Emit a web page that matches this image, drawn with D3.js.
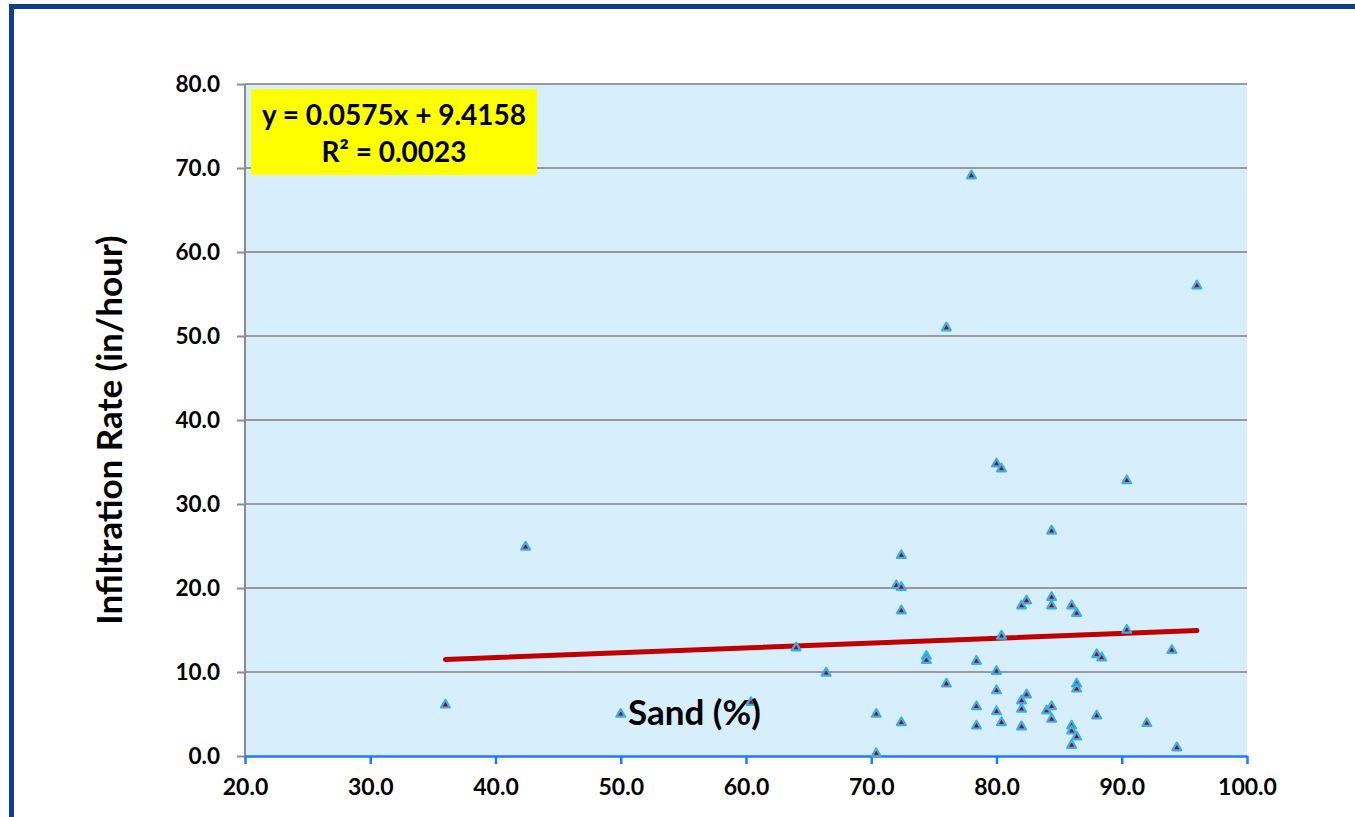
<!DOCTYPE html>
<html>
<head>
<meta charset="utf-8">
<script src="https://cdn.jsdelivr.net/npm/d3@7"></script>
<style>
  body { margin: 0; background: #fff; }
  svg text { font-family: Lato, "Open Sans", sans-serif; font-weight: bold; }
</style>
</head>
<body>
<div id="chart"></div>
<script>
// sand % vs infiltration rate
const sand = [36.0, 42.4, 50.0, 60.4, 64.0, 66.4, 70.4, 70.4, 72.0, 72.4, 72.4, 72.4, 72.4, 74.4, 74.4,
  76.0, 76.0, 78.0, 78.4, 78.4, 78.4, 80.0, 80.4, 80.0, 80.0, 80.0, 80.4, 80.4, 82.0, 82.4,
  82.0, 82.0, 82.0, 82.4, 84.0, 84.4, 84.4, 84.4, 84.4, 84.4, 86.0, 86.4, 86.4, 86.4, 86.0,
  86.0, 86.4, 86.0, 88.0, 88.4, 88.0, 90.4, 90.4, 92.0, 94.0, 94.4, 96.0]
const infiltration = [6.2, 25.0, 5.1, 6.5, 13.0, 10.0, 5.1, 0.4, 20.4, 24.0, 20.2, 17.4, 4.1, 12.0, 11.5,
  51.1, 8.7, 69.2, 11.4, 6.0, 3.7, 34.9, 34.3, 10.2, 7.9, 5.4, 14.4, 4.1, 18.0, 18.6,
  6.7, 5.7, 3.6, 7.4, 5.5, 6.0, 4.5, 26.9, 19.0, 18.0, 18.0, 17.1, 8.7, 8.1, 3.7,
  3.1, 2.4, 1.4, 12.2, 11.8, 4.9, 32.9, 15.1, 4.0, 12.7, 1.1, 56.1]

const xTicks = [20, 30, 40, 50, 60, 70, 80, 90, 100]
const yTicks = [0, 10, 20, 30, 40, 50, 60, 70, 80]
const slope = 0.0575, intercept = 9.4158, r2 = 0.0023

const W = 1355, H = 817
const margin = { top: 84, right: 108, bottom: 61, left: 245 }
const width = W - margin.left - margin.right
const height = H - margin.top - margin.bottom

const root = d3.select("#chart").append("svg")
  .attr("width", W)
  .attr("height", H)

// outer frame (runs off the right and bottom of the picture)
root.append("rect")
  .attr("x", 11.5).attr("y", 6.5)
  .attr("width", 1500).attr("height", 1000)
  .attr("fill", "none")
  .attr("stroke", "#0d3f8c")
  .attr("stroke-width", 5)

const svg = root.append("g")
  .attr("transform", "translate(" + margin.left + "," + margin.top + ")")

const x = d3.scaleLinear().domain([20, 100]).range([0, width])
const y = d3.scaleLinear().domain([0, 80]).range([height, 0])

svg.append("rect")
  .attr("width", width).attr("height", height)
  .attr("fill", "#d7eefd")

// gridlines
svg.append("g")
  .selectAll("line")
  .data(yTicks.filter(d => d > 0))
  .enter().append("line")
  .attr("x1", 0).attr("x2", width)
  .attr("y1", d => y(d)).attr("y2", d => y(d))
  .attr("stroke", "#9a9a9a")
  .attr("stroke-width", 2)

// y axis
const yaxis = svg.append("g")
  .call(d3.axisLeft(y).tickValues(yTicks).tickFormat(d3.format(".1f")).tickSize(8).tickPadding(17))
yaxis.selectAll("path, line").attr("stroke", "#8c8c8c").attr("stroke-width", 2)
yaxis.select(".domain").attr("d", "M0," + height + "V0")
yaxis.selectAll("text").style("font-size", "22.5px").attr("fill", "#000")

// x axis
const xaxis = svg.append("g")
  .attr("transform", "translate(0," + height + ")")
  .call(d3.axisBottom(x).tickValues(xTicks).tickFormat(d3.format(".1f")).tickSize(8).tickSizeOuter(0).tickPadding(15))
xaxis.selectAll("path, line").attr("stroke", "#1f78ff").attr("stroke-width", 2.5)
xaxis.selectAll("text").style("font-size", "23px").attr("fill", "#000")

// trend line
const xs = d3.extent(sand)
svg.append("line")
  .attr("x1", x(xs[0])).attr("y1", y(slope * xs[0] + intercept))
  .attr("x2", x(xs[1])).attr("y2", y(slope * xs[1] + intercept))
  .attr("stroke", "#c00000")
  .attr("stroke-width", 5)
  .attr("stroke-linecap", "round")

// points
const tri = d3.symbol().type(d3.symbolTriangle).size(34)
svg.append("g")
  .selectAll("path")
  .data(sand.map((s, i) => [s, infiltration[i]]))
  .enter().append("path")
  .attr("transform", d => "translate(" + x(d[0]) + "," + (y(d[1]) + 1) + ")")
  .attr("d", tri)
  .attr("fill", "#c00000")
  .attr("stroke", "#2fb2f2")
  .attr("stroke-width", 2.2)
  .attr("stroke-linejoin", "round")

// equation box
const eq = svg.append("g").attr("transform", "translate(6,5)")
eq.append("rect")
  .attr("width", 286).attr("height", 86)
  .attr("fill", "#ffff00")
eq.append("text")
  .attr("x", 143).attr("y", 36)
  .attr("text-anchor", "middle")
  .style("font-size", "28px")
  .text("y = " + slope + "x + " + intercept)
eq.append("text")
  .attr("x", 143).attr("y", 73)
  .attr("text-anchor", "middle")
  .style("font-size", "28px")
  .text("R² = " + r2.toFixed(4))

// axis titles
svg.append("text")
  .attr("x", 383).attr("y", height - 31)
  .style("font-size", "35px")
  .text("Sand (%)")

svg.append("text")
  .attr("text-anchor", "middle")
  .attr("transform", "translate(" + (-123) + "," + (height / 2 + 10) + ")rotate(-90)")
  .style("font-size", "35px")
  .text("Infiltration Rate (in/hour)")
</script>
</body>
</html>
